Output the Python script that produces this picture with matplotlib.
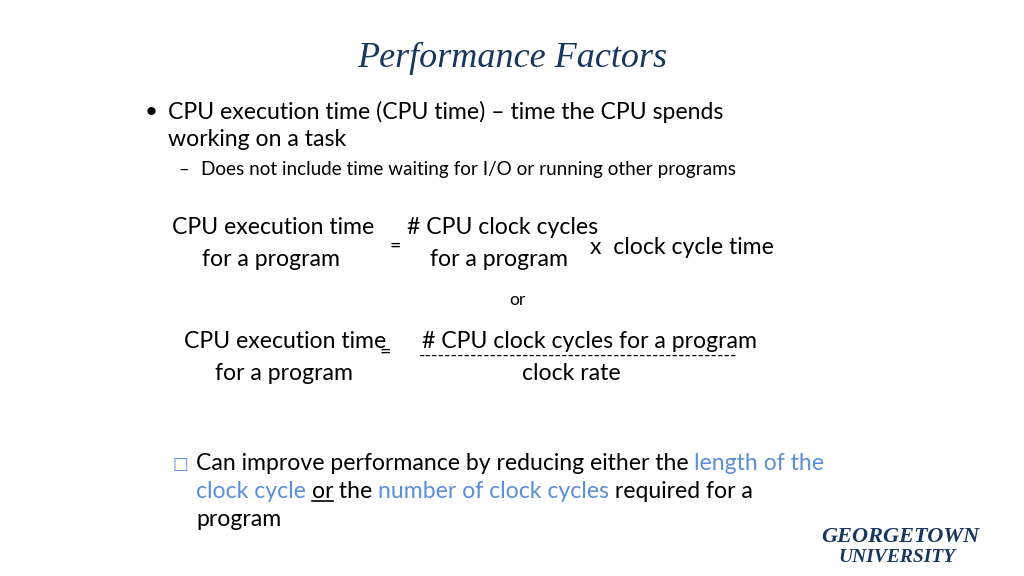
import matplotlib
matplotlib.use('Agg')
import matplotlib.pyplot as plt

W, H = 1024, 576
NAVY = '#17375e'
BLUE = '#5b8fd6'
BODY = 'Lato'

title = 'Performance Factors'
bullet_lines = ['CPU execution time (CPU time) – time the CPU spends', 'working on a task']
sub_bullet = 'Does not include time waiting for I/O or running other programs'
eq1_left = ['CPU execution time', 'for a program']
eq1_mid = ['# CPU clock cycles', 'for a program']
eq1_right = 'x  clock cycle time'
eq2_left = ['CPU execution time', 'for a program']
eq2_right = ['# CPU clock cycles for a program', 'clock rate']
last_bullet = [
    [('Can improve performance by reducing either the ', 'k'), ('length of the', 'b')],
    [('clock cycle', 'b'), (' ', 'k'), ('or', 'u'), (' the ', 'k'), ('number of clock cycles', 'b'),
     (' required for a', 'k')],
    [('program', 'k')],
]

fig = plt.figure(figsize=(W / 100, H / 100), dpi=100)
fig.patch.set_facecolor('white')


def txt(x, y, s, **kw):
    kw.setdefault('family', BODY)
    kw.setdefault('va', 'center')
    return fig.text(x / W, 1 - y / H, s, **kw)


FS = 16.6
txt(512, 58, title, ha='center', family='Liberation Serif', style='italic', size=26, color=NAVY)

txt(145, 112, '•', size=16)
txt(168, 112, bullet_lines[0], size=FS)
txt(168, 140, bullet_lines[1], size=FS)
txt(178, 170, '–', size=13)
txt(201, 170, sub_bullet, size=13.6)

txt(273, 228, eq1_left[0], ha='center', size=FS)
txt(271, 260, eq1_left[1], ha='center', size=FS)
txt(395, 246, '=', ha='center', size=14)
txt(503, 228, eq1_mid[0], ha='center', size=FS)
txt(499, 260, eq1_mid[1], ha='center', size=FS)
txt(590, 248, eq1_right, size=FS)

txt(517, 300, 'or', ha='center', size=12.5)

txt(285, 342, eq2_left[0], ha='center', size=FS)
txt(284, 374, eq2_left[1], ha='center', size=FS)
txt(385, 352, '=', ha='center', size=14)
txt(589, 342, eq2_right[0], ha='center', size=FS)
txt(578, 356, '-' * 49, ha='center', size=12.5)
txt(571, 374, eq2_right[1], ha='center', size=FS)

txt(180, 464, '\u25a1', ha='center', size=12, color=BLUE, family='DejaVu Sans')
fig.canvas.draw()
r = fig.canvas.get_renderer()
for i, line in enumerate(last_bullet):
    x = 196
    y = 463 + 28 * i
    for s, c in line:
        col = BLUE if c == 'b' else 'black'
        t = txt(x, y, s, size=FS, color=col)
        bb = t.get_window_extent(renderer=r)
        if c == 'u':
            fig.add_artist(plt.Line2D([bb.x0 / W, bb.x1 / W], [(bb.y0 + 1) / H] * 2, color='black', lw=1.2))
        x += bb.width

txt(900, 537, 'GEORGETOWN', ha='center', family='Liberation Serif', style='italic', weight='bold', size=16, color=NAVY)
txt(897, 557, 'UNIVERSITY', ha='center', family='Liberation Serif', style='italic', weight='bold', size=14, color=NAVY)

fig.savefig('out.png', dpi=100)
